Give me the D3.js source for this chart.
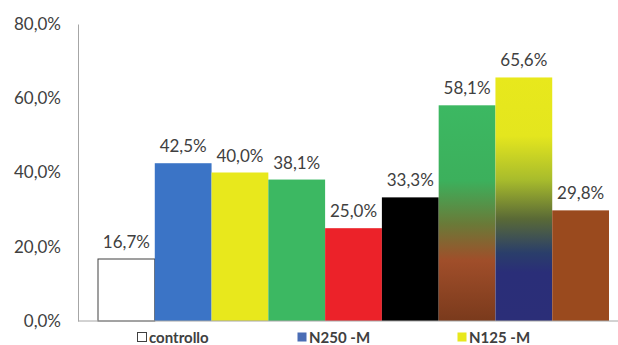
<!DOCTYPE html>
<html>
<head>
<meta charset="utf-8">
<script src="https://cdn.jsdelivr.net/npm/d3@7"></script>
<style>
  body { margin: 0; background: #fff; }
  text { font-family: Lato, "Open Sans", sans-serif; fill: #404040; }
</style>
</head>
<body>
<div id="graph1"></div>
<script>
// bars, left to right
var bars = ["controllo", "b2", "b3", "b4", "b5", "b6", "b7", "b8", "b9"];
var values = [16.7, 42.5, 40.0, 38.1, 25.0, 33.3, 58.1, 65.6, 29.8];
var fills = ["#ffffff", "#3b74c6", "#e8e81c", "#3cb862", "#ec2229", "#000000", "url(#gradGreen)", "url(#gradYellow)", "#9a4a1e"];
var yTicks = [0, 20, 40, 60, 80];
var legendNames = ["controllo", "N250 -M", "N125 -M"];
var legendColors = ["#ffffff", "#4a6db5", "#e8e81c"];

var fmt = function(v) { return d3.format(".1f")(v).replace(".", ",") + "%"; };

var width = 618, height = 345;
var margin = {left: 78, top: 24, bottom: 24};

var svg = d3.select("#graph1").append("svg")
    .attr("width", width)
    .attr("height", height);

var defs = svg.append("defs");
var g1 = defs.append("linearGradient").attr("id", "gradGreen")
    .attr("x1", 0).attr("y1", 0).attr("x2", 0).attr("y2", 1);
g1.append("stop").attr("offset", "0%").attr("stop-color", "#3cb862");
g1.append("stop").attr("offset", "35%").attr("stop-color", "#3cb05c");
g1.append("stop").attr("offset", "55%").attr("stop-color", "#6a7a38");
g1.append("stop").attr("offset", "72%").attr("stop-color", "#a04e2a");
g1.append("stop").attr("offset", "100%").attr("stop-color", "#7a3a1c");

var g2 = defs.append("linearGradient").attr("id", "gradYellow")
    .attr("x1", 0).attr("y1", 0).attr("x2", 0).attr("y2", 1);
g2.append("stop").attr("offset", "0%").attr("stop-color", "#e8e81c");
g2.append("stop").attr("offset", "24%").attr("stop-color", "#e4e61e");
g2.append("stop").attr("offset", "42%").attr("stop-color", "#a8bc2c");
g2.append("stop").attr("offset", "58%").attr("stop-color", "#5a6a36");
g2.append("stop").attr("offset", "72%").attr("stop-color", "#2a3e6a");
g2.append("stop").attr("offset", "80%").attr("stop-color", "#2a2e78");
g2.append("stop").attr("offset", "100%").attr("stop-color", "#2b2e78");

var x = d3.scaleBand()
    .domain(bars)
    .range([98, 609])
    .padding(0);

var y = d3.scaleLinear()
    .domain([0, 80])
    .range([321, 24]);

// y axis
var yAxis = d3.axisLeft(y)
    .tickValues(yTicks)
    .tickSize(0)
    .tickPadding(17)
    .tickFormat(fmt);

var ya = svg.append("g")
    .attr("transform", "translate(" + margin.left + ",0)")
    .call(yAxis);
ya.select(".domain").attr("stroke", "#a6a6a6");
ya.selectAll("text").style("font-size", "17px").style("font-family", null).attr("fill", "#404040");

// bars
svg.append("g").selectAll("rect")
    .data(values)
    .enter()
    .append("rect")
    .attr("x", function(d, i) { return x(bars[i]); })
    .attr("y", function(d) { return y(d); })
    .attr("width", x.bandwidth())
    .attr("height", function(d) { return y(0) - y(d); })
    .attr("fill", function(d, i) { return fills[i]; })
    .attr("stroke", function(d, i) { return i == 0 ? "#404040" : "none"; })
    .attr("stroke-width", 1);

// baseline
svg.append("line")
    .attr("x1", margin.left).attr("x2", 618)
    .attr("y1", y(0)).attr("y2", y(0))
    .attr("stroke", "#a6a6a6");

// value labels
svg.append("g").selectAll("text")
    .data(values)
    .enter()
    .append("text")
    .attr("x", function(d, i) { return x(bars[i]) + x.bandwidth() / 2; })
    .attr("y", function(d) { return y(d) - 11; })
    .attr("text-anchor", "middle")
    .style("font-size", "17px")
    .text(fmt);

// legend
var legendX = [137, 297, 457];
var legend = svg.append("g").selectAll("g")
    .data(legendNames)
    .enter()
    .append("g")
    .attr("transform", function(d, i) { return "translate(" + legendX[i] + ",337)"; });

legend.append("rect")
    .attr("x", 0.5).attr("y", -4.5)
    .attr("width", 9).attr("height", 9)
    .attr("fill", function(d, i) { return legendColors[i]; })
    .attr("stroke", function(d, i) { return i == 0 ? "#404040" : "none"; });

legend.append("text")
    .attr("x", 12)
    .attr("y", 5.5)
    .style("font-size", "15px")
    .style("font-weight", "bold")
    .text(function(d) { return d; });
</script>
</body>
</html>
